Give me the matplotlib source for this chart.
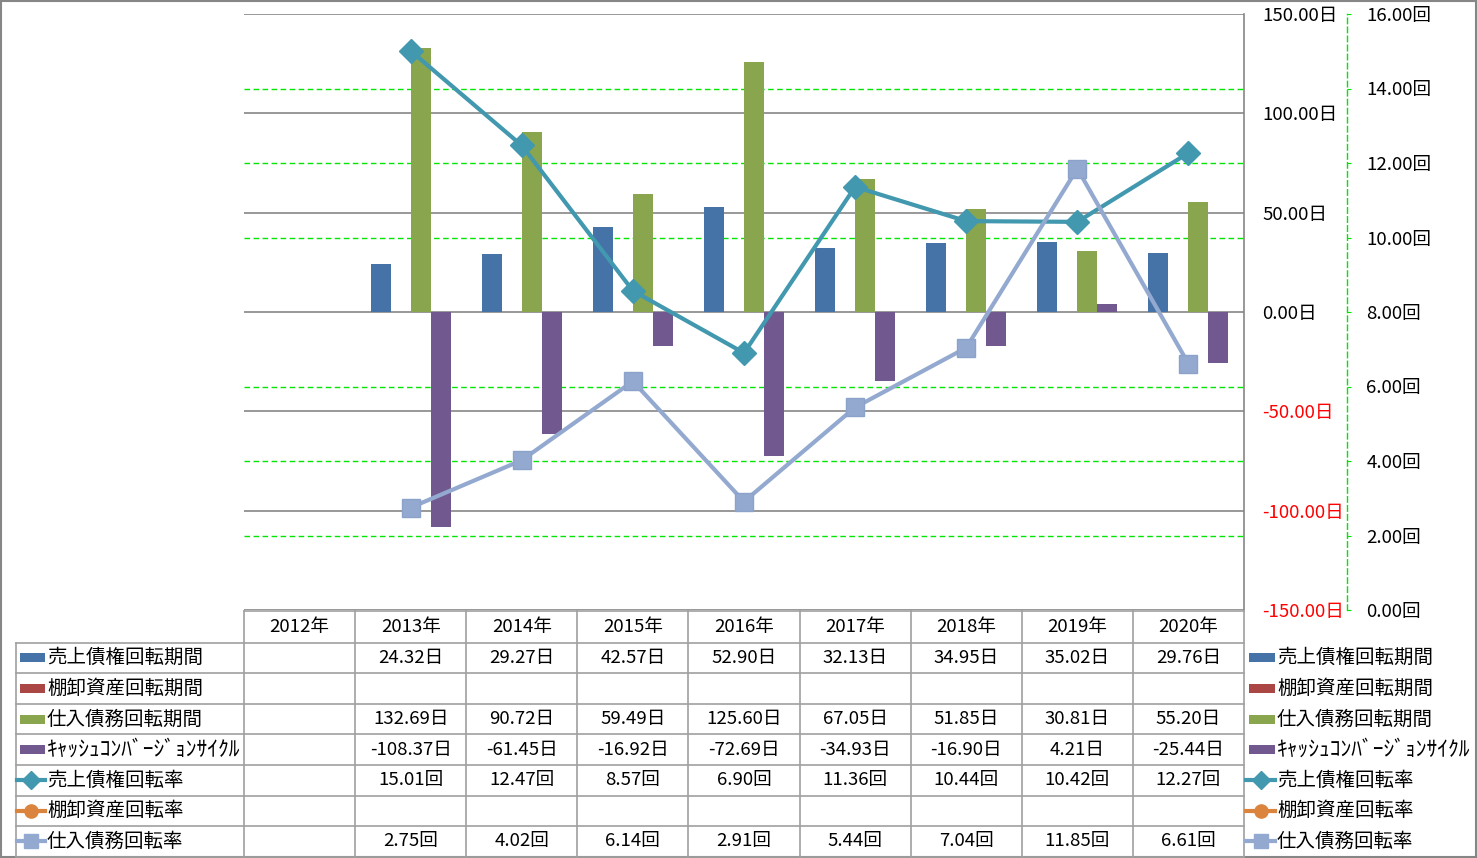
import numpy as np
import matplotlib
matplotlib.use('Agg')
import matplotlib.pyplot as plt
from matplotlib.patches import Rectangle
from matplotlib.lines import Line2D

plt.rcParams['font.family'] = ['Noto Sans CJK JP', 'DejaVu Sans']

nan = np.nan
years = ['2012年', '2013年', '2014年', '2015年', '2016年', '2017年', '2018年', '2019年', '2020年']
receivable_days = [nan, 24.32, 29.27, 42.57, 52.90, 32.13, 34.95, 35.02, 29.76]
inventory_days = [nan, nan, nan, nan, nan, nan, nan, nan, nan]
payable_days = [nan, 132.69, 90.72, 59.49, 125.60, 67.05, 51.85, 30.81, 55.20]
ccc_days = [nan, -108.37, -61.45, -16.92, -72.69, -34.93, -16.90, 4.21, -25.44]
receivable_turn = [nan, 15.01, 12.47, 8.57, 6.90, 11.36, 10.44, 10.42, 12.27]
inventory_turn = [nan, nan, nan, nan, nan, nan, nan, nan, nan]
payable_turn = [nan, 2.75, 4.02, 6.14, 2.91, 5.44, 7.04, 11.85, 6.61]

series_names = ['売上債権回転期間', '棚卸資産回転期間', '仕入債務回転期間', 'ｷｬｯｼｭｺﾝﾊﾞｰｼﾞｮﾝｻｲｸﾙ',
                '売上債権回転率', '棚卸資産回転率', '仕入債務回転率']
left_ticks = [-150, -100, -50, 0, 50, 100, 150]
right_ticks = [0, 2, 4, 6, 8, 10, 12, 14, 16]

C_BLUE, C_RED, C_GREEN, C_PURPLE = '#4572A7', '#AA4643', '#89A54E', '#71588F'
C_TEAL, C_ORANGE, C_LBLUE = '#4198AF', '#DB843D', '#93A9CF'
GRID_GREY = '#868686'
FS = 14
FS_NUM = 13.4

W, H = 1477, 858
fig = plt.figure(figsize=(W / 100, H / 100), dpi=100)
fig.patch.set_facecolor('white')

L, R, T, B = 244, 1244, 14, 610
rect = [L / W, (H - B) / H, (R - L) / W, (B - T) / H]

# secondary-scale gridlines (behind everything)
axg = fig.add_axes(rect)
axg.set_xlim(-0.5, len(years) - 0.5)
axg.set_ylim(0, 16)
axg.set_yticks([v for v in right_ticks if v not in (0, 8, 16)])
axg.grid(axis='y', color='#00E600', linestyle=(0, (4, 2.5)), linewidth=1.0)
axg.tick_params(left=False, labelleft=False, bottom=False, labelbottom=False)
for s in axg.spines.values():
    s.set_visible(False)
axg.patch.set_visible(False)
axg.set_zorder(0)

# primary axis: bars
ax = fig.add_axes(rect)
ax.set_zorder(1)
ax.patch.set_visible(False)
x = np.arange(len(years))
bw = 0.18
bar_series = [(receivable_days, C_BLUE), (inventory_days, C_RED), (payable_days, C_GREEN), (ccc_days, C_PURPLE)]
for i, (vals, col) in enumerate(bar_series):
    ax.bar(x + (i - 1.5) * bw, np.array(vals, dtype=float), width=bw, color=col, linewidth=0)
ax.set_xlim(-0.5, len(years) - 0.5)
ax.set_ylim(-150, 150)

# secondary axis: lines
ax2 = ax.twinx()
ax2.set_zorder(2)
ax2.patch.set_visible(False)
ax2.set_ylim(0, 16)
ax2.plot(x, receivable_turn, color=C_TEAL, linewidth=3, marker='D', markersize=12.5,
         markerfacecolor=C_TEAL, markeredgecolor=C_TEAL)
ax2.plot(x, inventory_turn, color=C_ORANGE, linewidth=3, marker='o', markersize=12)
ax2.plot(x, payable_turn, color=C_LBLUE, linewidth=3, marker='s', markersize=13,
         markerfacecolor=C_LBLUE, markeredgecolor='#8BA2CB')
ax2.set_yticks(right_ticks, labels=[f'{v:.2f}回' for v in right_ticks])
ax2.spines['right'].set_position(('axes', (1347 - L) / (R - L)))
ax2.spines['right'].set_color('#00E600')
ax2.spines['right'].set_linestyle((0, (4, 2.5)))
ax2.spines['right'].set_linewidth(1.0)
for k in ['left', 'top', 'bottom']:
    ax2.spines[k].set_visible(False)
ax2.tick_params(axis='y', length=3, color='#00E600', pad=11, labelsize=FS_NUM)

# primary axis ticks on the right (after twinx, which resets them)
ax.set_yticks(left_ticks, labels=[f'{v:.2f}日' for v in left_ticks])
ax.yaxis.tick_right()
ax.tick_params(axis='y', left=False, labelleft=False, right=True, labelright=True,
               length=0, pad=13, labelsize=FS_NUM)
for tick, v in zip(ax.yaxis.get_major_ticks(), left_ticks):
    tick.label2.set_color('red' if v < 0 else 'black')
ax.tick_params(axis='x', bottom=False, labelbottom=False)
ax.set_axisbelow(True)
ax.grid(axis='y', color=GRID_GREY, linewidth=1.2)
for k in ['left', 'top', 'bottom']:
    ax.spines[k].set_visible(False)
ax.spines['right'].set_visible(True)
ax.spines['right'].set_color(GRID_GREY)
ax.spines['right'].set_linewidth(1.2)

# overlay for data table, legend and frame (pixel coordinates)
axo = fig.add_axes([0, 0, 1, 1])
axo.set_xlim(0, W)
axo.set_ylim(H, 0)
axo.axis('off')
axo.set_zorder(3)

TL = 16
header_top, header_bot = 611, 642.5
row_h = 30.6
n_rows = len(series_names)
bottom = header_bot + n_rows * row_h
col_w = (R - L) / len(years)
lc = '#A0A0A0'
lwt = 1.2
axo.plot([L, R], [header_top, header_top], color=lc, lw=lwt)
for r in range(n_rows + 1):
    yy = header_bot + r * row_h
    axo.plot([TL, R], [yy, yy], color=lc, lw=lwt)
for c in range(len(years) + 1):
    xx = L + c * col_w
    axo.plot([xx, xx], [header_top, bottom], color=lc, lw=lwt)
axo.plot([TL, TL], [header_bot, bottom], color=lc, lw=lwt)

for c, yr in enumerate(years):
    axo.text(L + (c + 0.5) * col_w, (header_top + header_bot) / 2, yr, ha='center', va='center', fontsize=FS_NUM)

table_series = [(receivable_days, '日'), (inventory_days, '日'), (payable_days, '日'), (ccc_days, '日'),
                (receivable_turn, '回'), (inventory_turn, '回'), (payable_turn, '回')]
for r, (vals, unit) in enumerate(table_series):
    yc = header_bot + (r + 0.5) * row_h
    for c, v in enumerate(vals):
        if not np.isnan(v):
            axo.text(L + (c + 0.5) * col_w, yc, f'{v:.2f}{unit}', ha='center', va='center', fontsize=FS_NUM)

key_styles = [('bar', C_BLUE), ('bar', C_RED), ('bar', C_GREEN), ('bar', C_PURPLE),
              ('line', C_TEAL, 'D', 9), ('line', C_ORANGE, 'o', 9.5), ('line', C_LBLUE, 's', 10)]

def draw_key(x0, x1, yc, style):
    if style[0] == 'bar':
        axo.add_patch(Rectangle((x0 + 3, yc - 4.5), x1 - x0 - 3, 9, color=style[1], lw=0))
    else:
        _, col, mk, ms = style
        axo.add_line(Line2D([x0, x1], [yc, yc], color=col, lw=3))
        axo.add_line(Line2D([(x0 + x1) / 2], [yc], color=col, marker=mk, markersize=ms, lw=0))

for r, (name, st) in enumerate(zip(series_names, key_styles)):
    yc = header_bot + (r + 0.5) * row_h
    fs = 15.5 if name.startswith('ｷ') else FS
    draw_key(17, 45, yc, st)
    axo.text(47, yc, name, ha='left', va='center', fontsize=fs)
    draw_key(1246, 1275, yc, st)
    axo.text(1277, yc, name, ha='left', va='center', fontsize=fs)

axo.add_patch(Rectangle((0.8, 0.8), W - 1.6, H - 1.6, fill=False, edgecolor=GRID_GREY, lw=1.5))

fig.savefig('out.png', dpi=100, facecolor='white')
